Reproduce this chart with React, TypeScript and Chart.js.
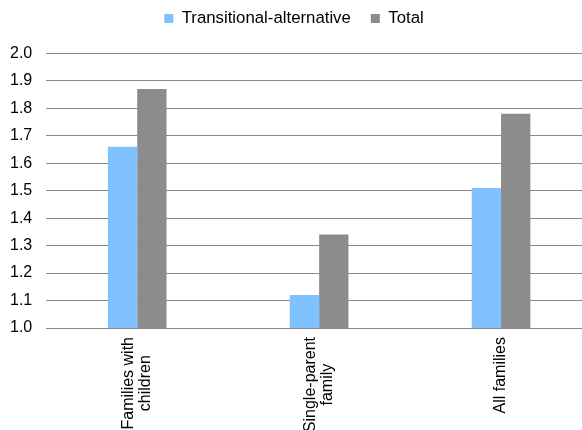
import React, { useEffect, useRef } from "react";
import { Chart, registerables } from "chart.js";

Chart.register(...registerables);

// Category names, split into the lines they are printed on under the axis
const categories: string[][] = [
  ["Families with", "children"],
  ["Single-parent", "family"],
  ["All families"],
];

const seriesNames = ["Transitional-alternative", "Total"];
const transitionalAlternative = [1.66, 1.12, 1.51];
const total = [1.87, 1.34, 1.78];

const yMin = 1.0;
const yMax = 2.0;
const yStep = 0.1;

const FONT = "'Liberation Sans', Arial, Helvetica, sans-serif";
const BLUE = "#80c1ff";
const GREY = "#8c8c8c";

// Vertical, multi-line category labels centred under each group
const categoryLabels = {
  id: "categoryLabels",
  afterDraw(chart: any) {
    const { ctx, chartArea, scales } = chart;
    const xScale = scales.x;
    const lineHeight = 16.5;
    ctx.save();
    ctx.font = `16px ${FONT}`;
    ctx.fillStyle = "#000";
    ctx.textBaseline = "middle";
    ctx.textAlign = "center";
    categories.forEach((lines, i) => {
      const cx = xScale.getPixelForValue(i);
      const maxW = Math.max(...lines.map((l) => ctx.measureText(l).width));
      ctx.save();
      ctx.translate(cx, chartArea.bottom + 9);
      ctx.rotate(-Math.PI / 2);
      lines.forEach((line, j) => {
        const v = (j - (lines.length - 1) / 2) * lineHeight;
        ctx.fillText(line, -maxW / 2, v);
      });
      ctx.restore();
    });
    ctx.restore();
  },
};

// Extra room between the legend and the plot
const legendSpacer = {
  id: "legendSpacer",
  beforeInit(chart: any) {
    const legend = chart.legend;
    if (!legend) return;
    const fit = legend.fit;
    legend.fit = function () {
      fit.call(this);
      this.height += 16.5;
    };
  },
};

export default function App() {
  const canvasRef = useRef<HTMLCanvasElement | null>(null);

  useEffect(() => {
    if (!canvasRef.current) return;
    Chart.defaults.font.family = FONT;
    Chart.defaults.font.size = 16;
    Chart.defaults.color = "#000";

    const chart = new Chart(canvasRef.current, {
      type: "bar",
      data: {
        labels: categories.map((c) => c.join(" ")),
        datasets: [
          {
            label: seriesNames[0],
            data: transitionalAlternative,
            backgroundColor: BLUE,
            categoryPercentage: 0.3225,
            barPercentage: 1.0,
          },
          {
            label: seriesNames[1],
            data: total,
            backgroundColor: GREY,
            categoryPercentage: 0.3225,
            barPercentage: 1.0,
          },
        ],
      },
      options: {
        responsive: false,
        animation: false,
        devicePixelRatio: 1,
        layout: { padding: { left: 0, right: 0, top: -10, bottom: 102 } },
        plugins: {
          legend: {
            position: "top",
            labels: {
              boxWidth: 9,
              boxHeight: 9,
              padding: 20,
              font: { size: 16.8, family: FONT },
              color: "#000",
            },
          },
          tooltip: { enabled: false },
        },
        scales: {
          x: {
            grid: { display: false, drawTicks: false },
            border: { display: false },
            ticks: { display: false },
          },
          y: {
            min: yMin,
            max: yMax,
            border: { display: false },
            grid: { color: "#878787", lineWidth: 1, drawTicks: false },
            ticks: {
              stepSize: yStep,
              padding: 14,
              color: "#000",
              font: { size: 16, family: FONT },
              callback: (v: any) => Number(v).toFixed(1),
            },
          },
        },
      },
      plugins: [legendSpacer, categoryLabels],
    });

    return () => chart.destroy();
  }, []);

  return (
    <div
      style={{
        position: "fixed",
        left: 0,
        top: 0,
        width: 582,
        height: 430,
        overflow: "hidden",
        background: "#fff",
      }}
    >
      <canvas
        ref={canvasRef}
        width={596}
        height={430}
        style={{ display: "block", marginLeft: -4 }}
      />
    </div>
  );
}
